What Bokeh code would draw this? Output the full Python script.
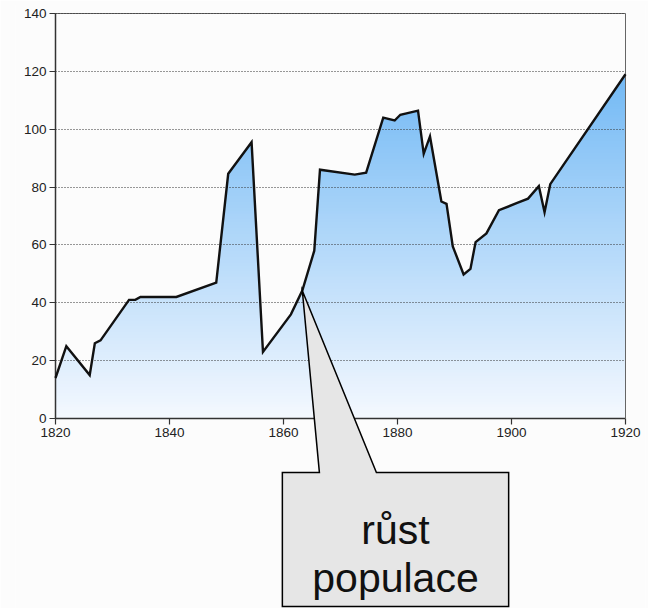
import numpy as np
from bokeh.plotting import figure
from bokeh.models import Label, Range1d, FixedTicker, LinearAxis
from bokeh.embed import file_html
from bokeh.resources import INLINE

# ---- data ----
years = [1820, 1821.9, 1826, 1826.9, 1827.9, 1832.9, 1834, 1834.9, 1841.2, 1848.2,
         1850.3, 1854.4, 1856.4, 1861.3, 1863.3, 1865.4, 1866.4, 1872.5, 1874.5,
         1877.5, 1879.5, 1880.5, 1883.6, 1884.6, 1885.7, 1887.7, 1888.6, 1889.7,
         1891.6, 1892.8, 1893.7, 1895.6, 1897.8, 1901.0, 1902.9, 1904.8, 1905.8,
         1906.8, 1920]
values = [14, 25, 15, 26, 27, 41, 41, 42, 42, 47,
          84.6, 95.5, 23, 36, 44.2, 58, 86, 84.3, 85,
          104, 103, 105, 106.4, 91.5, 97.5, 75, 74.2, 59.5,
          49.8, 51.7, 61, 64, 72, 74.5, 76, 80.3, 71.3,
          81, 119]
x_ticks = [1820, 1840, 1860, 1880, 1900, 1920]
y_ticks = [0, 20, 40, 60, 80, 100, 120, 140]
callout_lines = ["růst", "populace"]
callout_tip = (1863.3, 44.2)

XMIN, XMAX, YMIN, YMAX = 1820, 1920, 0, 140

# ---- layout (pixels) ----
BG = "#fcfcfc"
W, H = 648, 608
PX_X = 5.7                 # px per year
PX_Y = 405.0 / 140.0       # px per unit
LEFT, RIGHT, TOP = 15, 3, 4
AXIS_LEFT_PX, AXIS_RIGHT_PX, AXIS_TOP_PX = 55, 625, 13   # where 1820, 1920, 140 sit on the page
x0 = XMIN - (AXIS_LEFT_PX - LEFT) / PX_X
x1 = XMAX + (W - RIGHT - AXIS_RIGHT_PX) / PX_X
y1 = YMAX + (AXIS_TOP_PX - TOP) / PX_Y
y0 = YMAX - (H - AXIS_TOP_PX) / PX_Y

p = figure(width=W, height=H, output_backend="svg", toolbar_location=None,
           x_range=Range1d(x0, x1), y_range=Range1d(y0, y1),
           min_border_left=LEFT, min_border_right=RIGHT, min_border_top=TOP,
           min_border_bottom=0, background_fill_color=BG, border_fill_color=BG)
p.outline_line_color = None

# gradient fill under the curve: gradient image, then cover area above the curve
N = 140
img = np.zeros((N, 1), dtype=np.uint32)
view = img.view(dtype=np.uint8).reshape((N, 1, 4))
c_bottom = np.array([245, 249, 255])
c_top = np.array([114, 185, 245])
for i in range(N):
    v = (i + 0.5) * YMAX / N
    t = min(v / 120.0, 1.0)
    c = c_bottom + (c_top - c_bottom) * t
    view[i, 0, 0:3] = c.astype(np.uint8)
    view[i, 0, 3] = 255
p.image_rgba(image=[img], x=XMIN, y=YMIN, dw=XMAX - XMIN, dh=YMAX - YMIN)
p.varea(x=years, y1=values, y2=[YMAX] * len(years), fill_color=BG, fill_alpha=1)
line_r = p.line(years, values, line_color="#111111", line_width=2.4, line_join="miter")
line_r.level = "annotation"

# axes
xax = p.xaxis[0]
yax = p.yaxis[0]
xax.fixed_location = YMIN
xax.bounds = (XMIN, XMAX)
yax.fixed_location = XMIN
yax.bounds = (YMIN, YMAX)
for ax in (xax, yax):
    ax.axis_line_color = "#333333"
    ax.axis_line_width = 1.5
    ax.major_tick_line_color = "#333333"
    ax.major_tick_line_width = 1.2
    ax.major_tick_out = 6
    ax.major_tick_in = 0
    ax.minor_tick_line_color = None
    ax.major_label_text_font = "Liberation Sans"
    ax.major_label_text_font_size = "13.5px"
    ax.major_label_text_color = "#222222"
    ax.major_label_standoff = 3
xax.ticker = FixedTicker(ticks=x_ticks)
yax.ticker = FixedTicker(ticks=y_ticks)

# frame border on top and right
top_ax = LinearAxis(ticker=FixedTicker(ticks=[]), axis_line_color="#666666",
                    fixed_location=YMAX, bounds=(XMIN, XMAX),
                    axis_line_width=1, minor_tick_line_color=None, major_tick_line_color=None)
right_ax = LinearAxis(ticker=FixedTicker(ticks=[]), axis_line_color="#666666",
                      fixed_location=XMAX, bounds=(YMIN, YMAX),
                      axis_line_width=1, minor_tick_line_color=None, major_tick_line_color=None)
p.add_layout(top_ax, "above")
p.add_layout(right_ax, "right")

# dotted horizontal grid
p.xgrid.grid_line_color = None
g = p.ygrid[0]
if "cross_bounds" in g.properties():
    g.cross_bounds = (XMIN, XMAX)
    g.grid_line_color = "#333333"
    g.grid_line_dash = "1 2"
    g.grid_line_width = 1
    g.level = "guide"
else:
    g.grid_line_color = None
    gr = p.segment(x0=[XMIN] * len(y_ticks), x1=[XMAX] * len(y_ticks), y0=y_ticks, y1=y_ticks,
                   line_color="#333333", line_dash="1 2", line_width=1)
    gr.level = "guide"

# callout
tx, ty = callout_tip
box_top, box_bottom = -18.7, -65
box_left, box_right = 1859.8, 1899.5
call = p.patch(x=[tx, 1866.3, box_left, box_left, box_right, box_right, 1876.3],
               y=[ty, box_top, box_top, box_bottom, box_bottom, box_top, box_top],
               fill_color="#e6e6e6", fill_alpha=1,
               line_color="#000000", line_width=1.5, line_join="miter")
call.level = "overlay"
cx = (box_left + box_right) / 2
for txt, yy in zip(callout_lines, [-38.7, -55.0]):
    p.add_layout(Label(x=cx, y=yy, text=txt, text_align="center",
                       text_baseline="alphabetic", text_font="Liberation Sans",
                       text_font_size="41px", text_color="#111111", level="overlay"))

open("out.html", "w").write(file_html(p, INLINE))
